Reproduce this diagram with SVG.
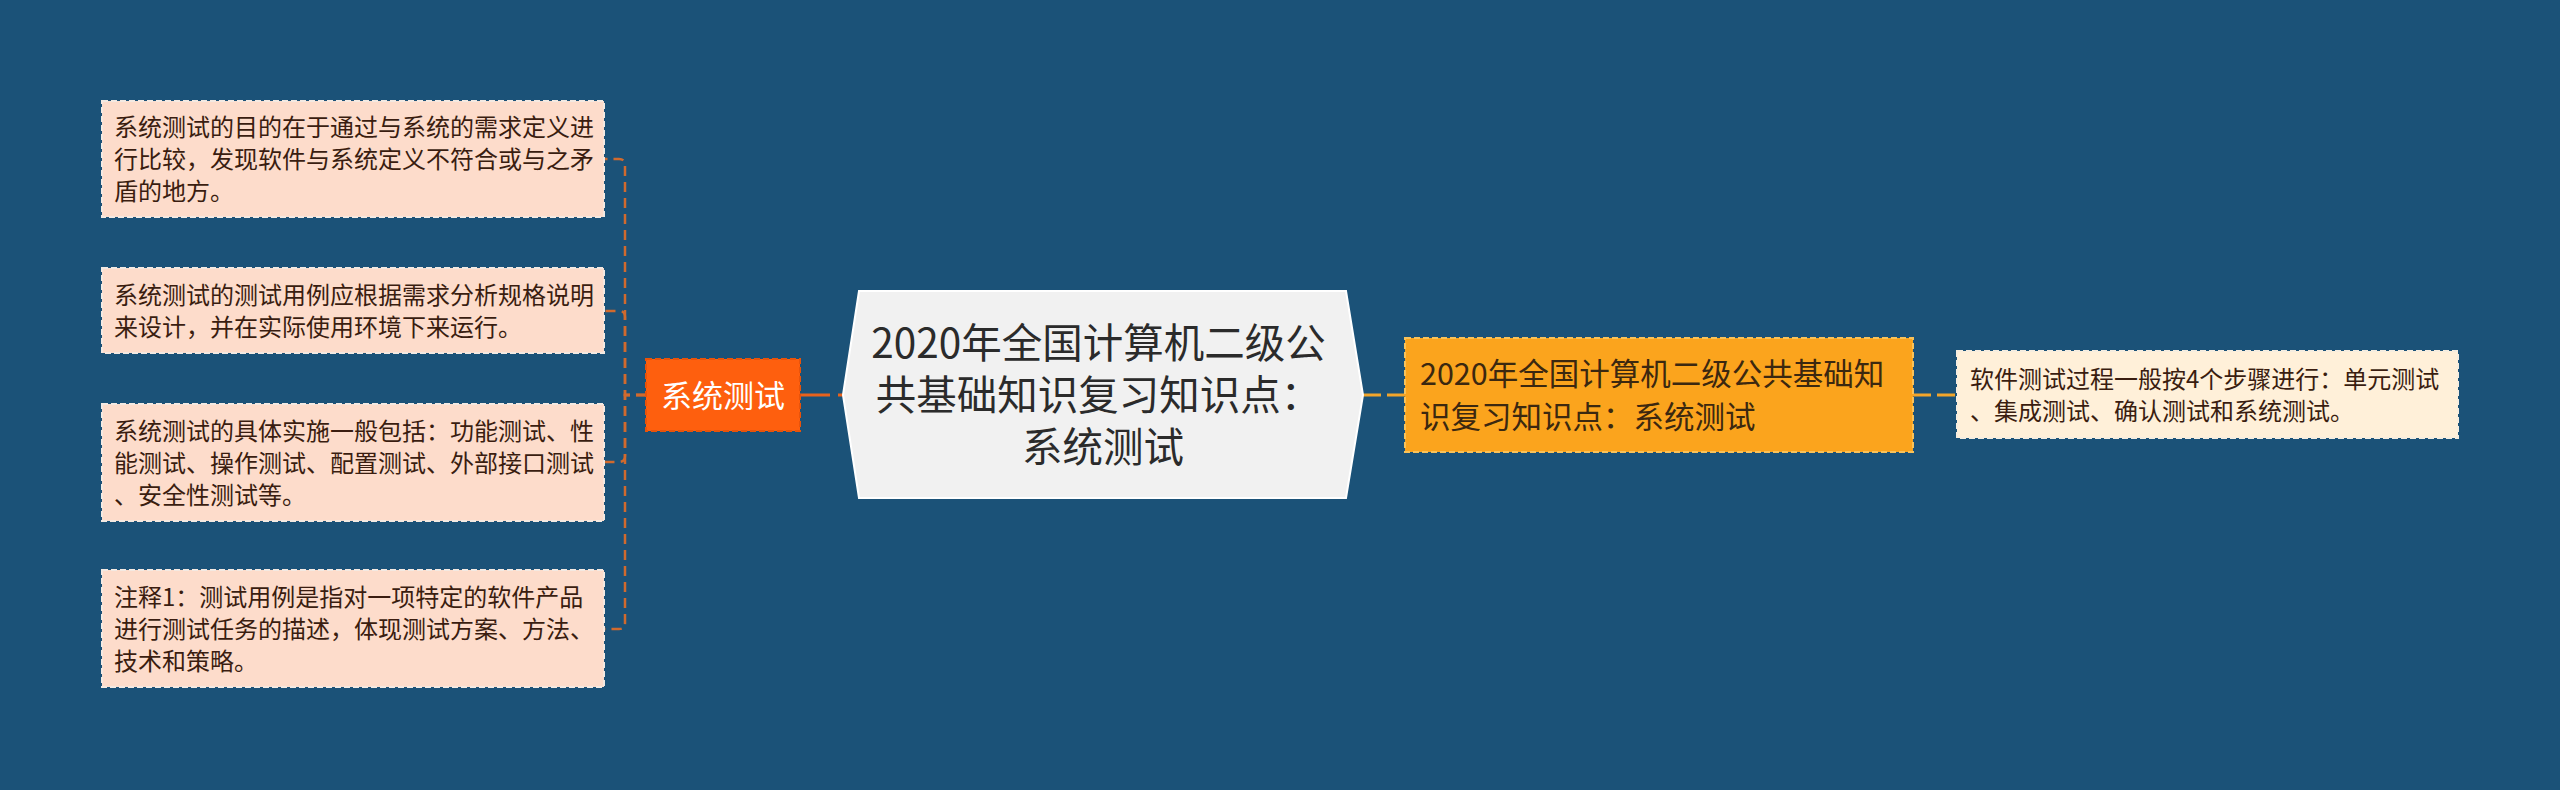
<svg xmlns="http://www.w3.org/2000/svg" width="2560" height="790" viewBox="0 0 2560 790">
<defs>
<style>
.t{font-family:"Noto Sans CJK SC","Microsoft YaHei",sans-serif}
.leaf{fill:#fddccb;stroke:#f3e9e2;stroke-width:2;stroke-dasharray:6 3}
.leaftxt{font-size:24px;fill:#3a1d10}
.rleaf{fill:#fff0d9;stroke:#f5ede0;stroke-width:2;stroke-dasharray:6 3}
.conL{fill:none;stroke:#d06a2e;stroke-width:2.5;stroke-dasharray:10 6}
.conR{fill:none;stroke:#f2a52b;stroke-width:3;stroke-dasharray:18 6}
</style>
</defs>
<rect x="0" y="0" width="2560" height="790" fill="#1b5278"/>
<g id="connectors">
<path class="conL" d="M646,395 H625 V165 Q625,159 619,159 H604"/>
<path class="conL" d="M646,395 H625 V317 Q625,311 619,311 H604"/>
<path class="conL" d="M646,395 H625 V456 Q625,462 619,462 H604"/>
<path class="conL" d="M646,395 H625 V623 Q625,629 619,629 H604"/>
<path fill="none" stroke="#e8621c" stroke-width="3" stroke-dasharray="30 8" d="M800,395 H843"/>
<path class="conR" d="M1363,395 H1405"/>
<path class="conR" d="M1913,395 H1957" stroke-dasharray="12 8"/>
</g>
<g id="root">
<polygon points="843,395 859,291 1346,291 1363,395 1346,498 859,498" fill="#f1f1f1" stroke="#ffffff" stroke-width="2"/>
<text class="t" font-size="40.5" fill="#2b2b2b" text-anchor="middle">
<tspan x="1103" y="358">2020年全国计算机二级公</tspan>
<tspan x="1103" y="410">共基础知识复习知识点：</tspan>
<tspan x="1103" y="462">系统测试</tspan>
</text>
</g>
<g id="label-xitong">
<rect x="646" y="359" width="154" height="72" fill="#fe5f0e" stroke="#e9530a" stroke-width="2" stroke-dasharray="6 3"/>
<text class="t" x="723" y="407" font-size="31" fill="#ffffff" text-anchor="middle">系统测试</text>
</g>
<g id="leaf1">
<rect class="leaf" x="102" y="101" width="502" height="116"/>
<text class="t leaftxt"><tspan x="114" y="136">系统测试的目的在于通过与系统的需求定义进</tspan><tspan x="114" y="168">行比较，发现软件与系统定义不符合或与之矛</tspan><tspan x="114" y="200">盾的地方。</tspan></text>
</g>
<g id="leaf2">
<rect class="leaf" x="102" y="268" width="502" height="85"/>
<text class="t leaftxt"><tspan x="114" y="304">系统测试的测试用例应根据需求分析规格说明</tspan><tspan x="114" y="336">来设计，并在实际使用环境下来运行。</tspan></text>
</g>
<g id="leaf3">
<rect class="leaf" x="102" y="404" width="502" height="117"/>
<text class="t leaftxt"><tspan x="114" y="440">系统测试的具体实施一般包括：功能测试、性</tspan><tspan x="114" y="472">能测试、操作测试、配置测试、外部接口测试</tspan><tspan x="114" y="504">、安全性测试等。</tspan></text>
</g>
<g id="leaf4">
<rect class="leaf" x="102" y="570" width="502" height="117"/>
<text class="t leaftxt"><tspan x="114" y="606">注释1：测试用例是指对一项特定的软件产品</tspan><tspan x="114" y="638">进行测试任务的描述，体现测试方案、方法、</tspan><tspan x="114" y="670">技术和策略。</tspan></text>
</g>
<g id="branch-right">
<rect x="1405" y="338" width="508" height="114" fill="#fba41d" stroke="#f8c25a" stroke-width="2" stroke-dasharray="6 3"/>
<text class="t" font-size="30.5" fill="#3b2810"><tspan x="1420" y="385">2020年全国计算机二级公共基础知</tspan><tspan x="1420" y="428">识复习知识点：系统测试</tspan></text>
</g>
<g id="leaf-right">
<rect class="rleaf" x="1957" y="351" width="501" height="87"/>
<text class="t leaftxt"><tspan x="1970" y="388">软件测试过程一般按4个步骤进行：单元测试</tspan><tspan x="1970" y="420">、集成测试、确认测试和系统测试。</tspan></text>
</g>
</svg>
